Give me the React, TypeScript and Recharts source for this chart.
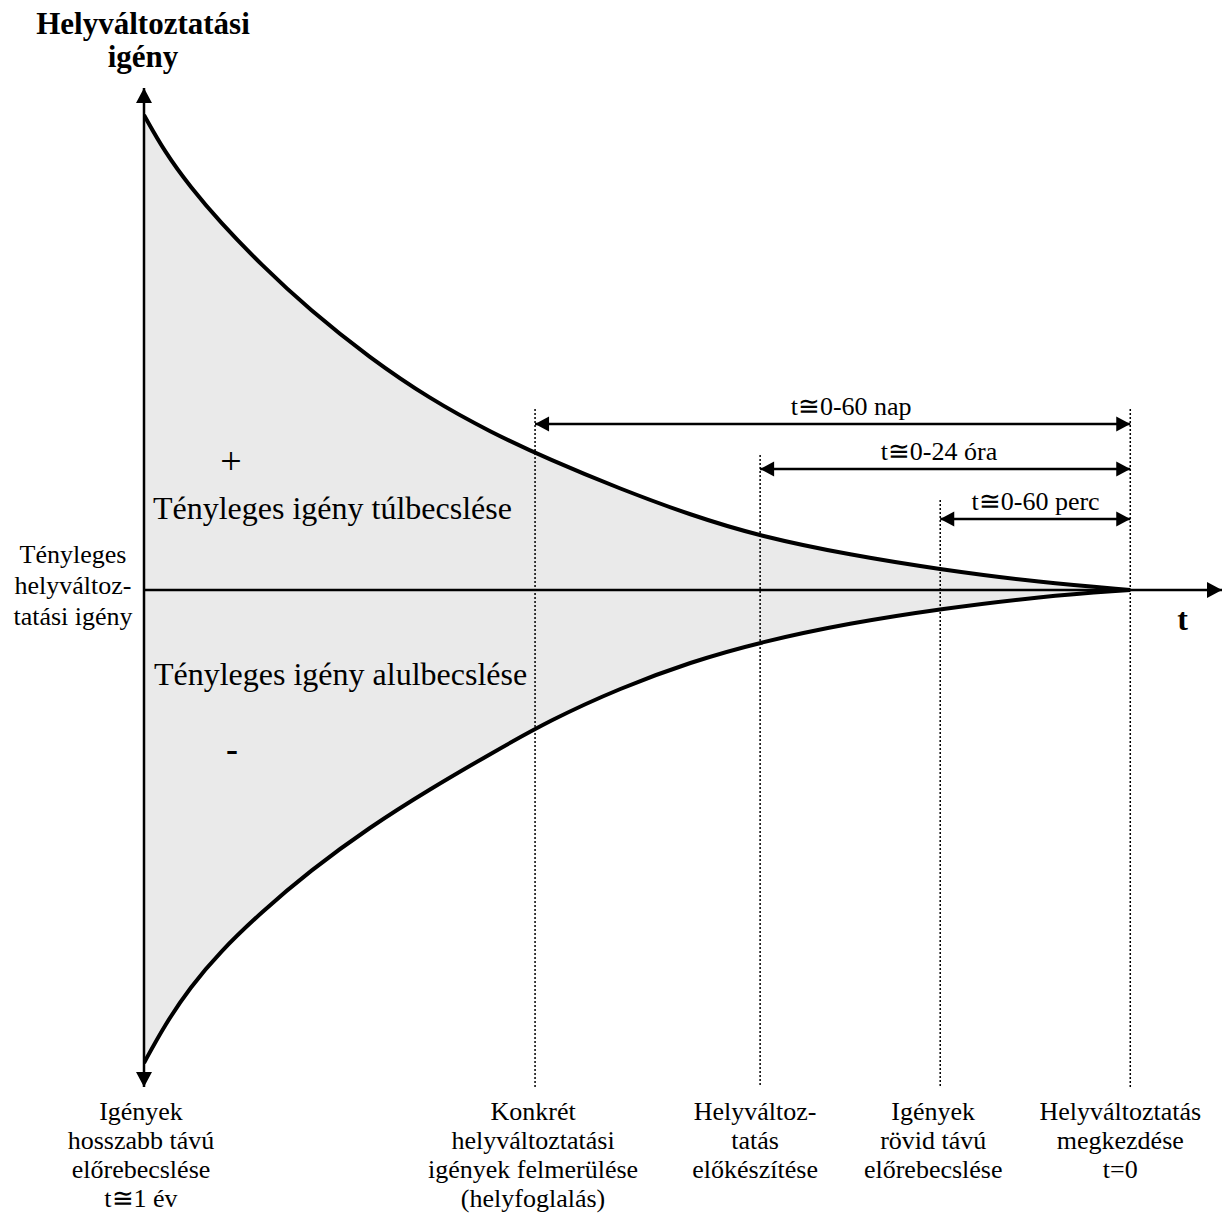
import React from 'react';
import {
  ComposedChart,
  Area,
  Line,
  XAxis,
  YAxis,
  ReferenceLine,
  ReferenceDot,
} from 'recharts';

const FONT = '"Liberation Serif", "Times New Roman", Times, serif';

// relative time: 0 = long-term forecast (t≅1 év), 100 = start of travel (t=0)
const timePoints = [0, 2.1, 4.7, 7.7, 11.8, 16.8, 22.9, 29, 35.1, 41.2, 48.3, 55.4, 62.5, 71.6, 80.7, 90.9, 100];
// deviation from the actual travel demand (over- / under-estimation)
const overEstimate = [475, 438, 403, 368, 326, 280, 232, 191, 158, 130, 101, 75, 53.5, 35, 20.5, 7.5, 0];
const underEstimate = [-473, -435, -397, -362, -323, -281, -237, -199, -164, -130, -98, -72, -52, -33, -19, -6.5, 0];

const T_MIN = 0;
const T_MAX = 109.3;
const V_MIN = -497;
const V_MAX = 502;

// milestones on the time axis
const milestoneT = [0, 39.65, 62.47, 80.73, 100];
const milestoneLabels = [
  ['Igények', 'hosszabb távú', 'előrebecslése', 't≅1 év'],
  ['Konkrét', 'helyváltoztatási', 'igények felmerülése', '(helyfoglalás)'],
  ['Helyváltoz-', 'tatás', 'előkészítése'],
  ['Igények', 'rövid távú', 'előrebecslése'],
  ['Helyváltoztatás', 'megkezdése', 't=0'],
];
const milestoneLineTop = [null, 181, 135, 90, 181];
const milestoneLabelDx = [-3, -2, -5, -7, -10];

// time spans before t=0
const spanStart = [39.65, 62.47, 80.73];
const spanEnd = [100, 100, 100];
const spanLevel = [166, 121, 71];
const spanLabels = ['t≅0-60 nap', 't≅0-24 óra', 't≅0-60 perc'];
const spanLabelT = [71.7, 80.6, 90.4];

const yTickValues = [0];
const yTickLabel = ['Tényleges', 'helyváltoz-', 'tatási igény'];

const table = timePoints.map((t, i) => ({
  t,
  upper: overEstimate[i],
  lower: underEstimate[i],
  range: [underEstimate[i], overEstimate[i]],
}));

type Dir = 'up' | 'down' | 'left' | 'right';
const arrowPoints = (cx: number, cy: number, dir: Dir, len: number, half: number) => {
  switch (dir) {
    case 'up':
      return `${cx},${cy} ${cx - half},${cy + len} ${cx + half},${cy + len}`;
    case 'down':
      return `${cx},${cy} ${cx - half},${cy - len} ${cx + half},${cy - len}`;
    case 'left':
      return `${cx},${cy} ${cx + len},${cy - half} ${cx + len},${cy + half}`;
    default:
      return `${cx},${cy} ${cx - len},${cy - half} ${cx - len},${cy + half}`;
  }
};

const arrowShape = (dir: Dir, len: number, half: number) => (p: any) =>
  <polygon points={arrowPoints(p.cx, p.cy, dir, len, half)} fill="#000" />;

const textShape =
  (lines: string[], size: number, opts: { weight?: string; anchor?: string; dy?: number; lineGap?: number; dx?: number } = {}) =>
  (p: any) => {
    const { weight = 'normal', anchor = 'middle', dy = 0, lineGap = size * 1.1, dx = 0 } = opts;
    return (
      <text
        x={p.cx + dx}
        y={p.cy + dy}
        textAnchor={anchor as any}
        fontFamily={FONT}
        fontSize={size}
        fontWeight={weight}
        fill="#000"
      >
        {lines.map((l, i) => (
          <tspan key={i} x={p.cx + dx} dy={i === 0 ? 0 : lineGap}>
            {l}
          </tspan>
        ))}
      </text>
    );
  };

const MilestoneTick = (props: any) => {
  const { x, y, payload } = props;
  const idx = milestoneT.indexOf(payload.value);
  if (idx < 0) return null;
  const dx = milestoneLabelDx[idx];
  return (
    <text x={x + dx} y={y} textAnchor="middle" fontFamily={FONT} fontSize={26} fill="#000">
      {milestoneLabels[idx].map((l, i) => (
        <tspan key={i} x={x + dx} dy={i === 0 ? 33 : 29}>
          {l}
        </tspan>
      ))}
    </text>
  );
};

const LevelTick = (props: any) => {
  const { x, y } = props;
  return (
    <text x={x - 71} y={y} textAnchor="middle" fontFamily={FONT} fontSize={26} fill="#000">
      {yTickLabel.map((l, i) => (
        <tspan key={i} x={x - 71} dy={i === 0 ? -27 : 31}>
          {l}
        </tspan>
      ))}
    </text>
  );
};

export default function App() {
  return (
    <div style={{ position: 'absolute', left: 0, top: 0, width: 1226, height: 1221 }}>
      <ComposedChart
        width={1226}
        height={1221}
        data={table}
        margin={{ top: 88, right: 4, bottom: 14, left: 0 }}
      >
        <XAxis
          type="number"
          dataKey="t"
          domain={[T_MIN, T_MAX]}
          allowDataOverflow
          ticks={milestoneT}
          interval={0}
          tick={(p: any) => <MilestoneTick {...p} />}
          axisLine={false}
          tickLine={false}
          tickSize={0}
          tickMargin={0}
          height={120}
        />
        <YAxis
          type="number"
          domain={[V_MIN, V_MAX]}
          allowDataOverflow
          ticks={yTickValues}
          interval={0}
          tick={(p: any) => <LevelTick {...p} />}
          axisLine={false}
          tickLine={false}
          tickSize={0}
          tickMargin={0}
          width={144}
        />

        <Area
          dataKey="range"
          type="basis"
          fill="#EAEAEA"
          fillOpacity={1}
          stroke="none"
          isAnimationActive={false}
          activeDot={false}
        />

        {milestoneT.map((t, i) =>
          milestoneLineTop[i] === null ? null : (
            <ReferenceLine
              key={`ml${i}`}
              segment={[
                { x: t, y: milestoneLineTop[i] as number },
                { x: t, y: V_MIN },
              ]}
              stroke="#000"
              strokeWidth={1.5}
              strokeDasharray="2 2"
            />
          )
        )}

        <Line
          dataKey="upper"
          type="basis"
          stroke="#000"
          strokeWidth={4}
          dot={false}
          activeDot={false}
          isAnimationActive={false}
        />
        <Line
          dataKey="lower"
          type="basis"
          stroke="#000"
          strokeWidth={4}
          dot={false}
          activeDot={false}
          isAnimationActive={false}
        />

        {/* axes */}
        <ReferenceLine x={0} stroke="#000" strokeWidth={2.5} />
        <ReferenceLine y={0} stroke="#000" strokeWidth={2.5} />
        <ReferenceDot x={0} y={V_MAX} r={0} ifOverflow="visible" shape={arrowShape('up', 15, 8)} />
        <ReferenceDot x={0} y={V_MIN} r={0} ifOverflow="visible" shape={arrowShape('down', 15, 8)} />
        <ReferenceDot x={T_MAX} y={0} r={0} ifOverflow="visible" shape={arrowShape('right', 15, 8)} />

        {/* time spans */}
        {spanStart.map((s, i) => (
          <ReferenceLine
            key={`sp${i}`}
            segment={[
              { x: s, y: spanLevel[i] },
              { x: spanEnd[i], y: spanLevel[i] },
            ]}
            stroke="#000"
            strokeWidth={2.5}
          />
        ))}
        {spanStart.map((s, i) => (
          <ReferenceDot key={`sl${i}`} x={s} y={spanLevel[i]} r={0} ifOverflow="visible" shape={arrowShape('left', 14, 7.5)} />
        ))}
        {spanEnd.map((e, i) => (
          <ReferenceDot key={`sr${i}`} x={e} y={spanLevel[i]} r={0} ifOverflow="visible" shape={arrowShape('right', 14, 7.5)} />
        ))}
        {spanLabels.map((l, i) => (
          <ReferenceDot
            key={`st${i}`}
            x={spanLabelT[i]}
            y={spanLevel[i]}
            r={0}
            ifOverflow="visible"
            shape={textShape([l], 26, { dy: -9 })}
          />
        ))}

        {/* annotations */}
        <ReferenceDot
          x={0}
          y={556}
          r={0}
          ifOverflow="visible"
          shape={textShape(['Helyváltoztatási', 'igény'], 31, { weight: 'bold', dx: -1, lineGap: 33 })}
        />
        <ReferenceDot x={8.82} y={116} r={0} ifOverflow="visible" shape={textShape(['+'], 38)} />
        <ReferenceDot
          x={0.91}
          y={71}
          r={0}
          ifOverflow="visible"
          shape={textShape(['Tényleges igény túlbecslése'], 32, { anchor: 'start' })}
        />
        <ReferenceDot
          x={1.01}
          y={-95}
          r={0}
          ifOverflow="visible"
          shape={textShape(['Tényleges igény alulbecslése'], 32, { anchor: 'start' })}
        />
        <ReferenceDot x={8.92} y={-171} r={0} ifOverflow="visible" shape={textShape(['-'], 36, { weight: 'bold' })} />
        <ReferenceDot x={105.3} y={-40} r={0} ifOverflow="visible" shape={textShape(['t'], 32, { weight: 'bold' })} />
      </ComposedChart>
    </div>
  );
}
